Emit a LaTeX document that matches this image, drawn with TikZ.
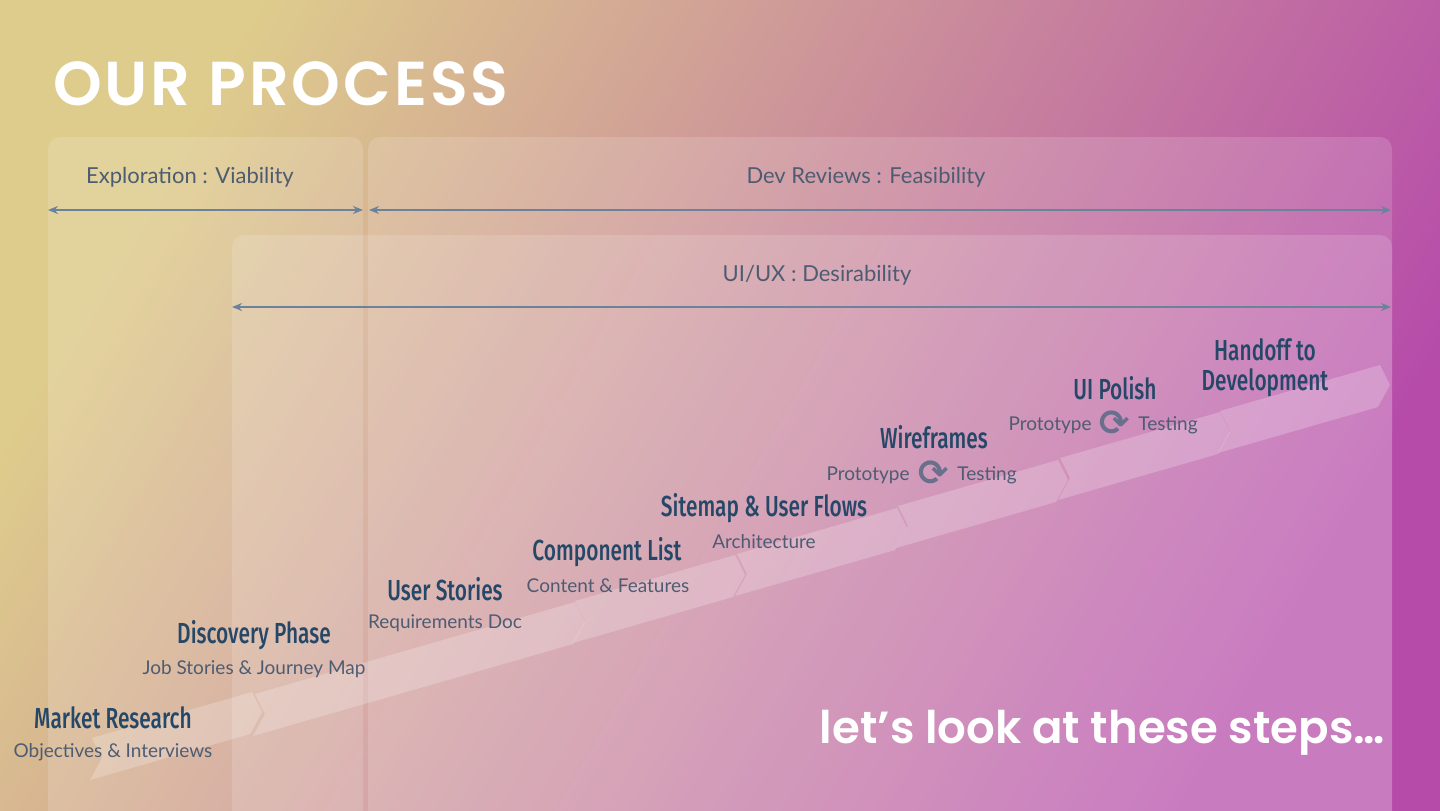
\documentclass[tikz,border=0pt]{standalone}
\usepackage{fontspec}
\setmainfont{Lato}
\newfontfamily\headfont[FakeStretch=0.72]{Fira Sans Medium}
\newfontfamily\titlefont{Poppins SemiBold}
\newfontfamily\symfont{DejaVu Sans}
\usetikzlibrary{arrows.meta}
\definecolor{bgyellow}{RGB}{222,204,140}
\definecolor{bgpeach}{RGB}{212,155,160}
\definecolor{bgmagenta}{RGB}{182,75,170}
\definecolor{headblue}{RGB}{38,72,104}
\definecolor{subgray}{RGB}{78,92,114}
\definecolor{arrowgray}{RGB}{108,130,155}
\definecolor{icongray}{RGB}{105,112,140}

\tikzset{
  panel/.style={fill=white, fill opacity=0.15, rounded corners=6pt},
  spanarrow/.style={{Stealth[length=5pt,width=4pt]}-{Stealth[length=5pt,width=4pt]}, arrowgray, line width=1.2pt},
  spanlabel/.style={text=subgray, font=\fontsize{11}{13}\selectfont},
  stephead/.style={text=headblue, font=\headfont\fontsize{14.5}{16}\selectfont, align=center},
  stepsub/.style={text=subgray, font=\fontsize{9.5}{11}\selectfont},
  cycleicon/.style={text=icongray, font=\symfont\bfseries\fontsize{18}{18}\selectfont}
}
\newcommand{\chevron}[2]{%
  \fill[white, fill opacity=0.22] (#1-10,#2-20) -- (#1,#2) -- (#1-12,#2+22)
    -- (#1-172,#2+68) -- (#1-160,#2+46) -- (#1-170,#2+26) -- cycle;}

\begin{document}
\begin{tikzpicture}[x=0.5pt, y=-0.5pt]
% Background
\shade[left color=bgyellow, middle color=bgpeach, right color=bgmagenta, shading angle=60]
  (0,0) rectangle (1440,810);
\useasboundingbox (0,0) rectangle (1440,810);

% Title
\node[anchor=base west, text=white, font=\titlefont\fontsize{31}{31}\selectfont] (title) at (46,105) {O\kern1.5pt U\kern1.5pt R\kern1.5pt\ P\kern1.5pt R\kern1.5pt O\kern1.5pt C\kern1.5pt E\kern1.5pt S\kern1.5pt S};

% Panels
\fill[panel] (48,137) rectangle (363,830);
\fill[panel] (368,137) rectangle (1392,830);
\fill[panel] (232,235) rectangle (1392,830);

% Span arrows
\coordinate (expL) at (48,210);
\coordinate (expR) at (363,210);
\coordinate (devL) at (369,210);
\coordinate (devR) at (1391,210);
\coordinate (uxL) at (232,307);
\coordinate (uxR) at (1391,307);
\draw[spanarrow] (expL) -- (expR);
\draw[spanarrow] (devL) -- (devR);
\draw[spanarrow] (uxL) -- (uxR);
\node[spanlabel] (explore) at (190,177) {Exploration : Viability};
\node[spanlabel] (devrev) at (866,177) {Dev Reviews : Feasibility};
\node[spanlabel] (uiux) at (817,275) {UI/UX : Desirability};

% Chevrons
\foreach \tx/\ty in {262/712, 425/668, 585/622, 745/575, 907/528, 1068/480, 1230/432, 1390/385}
  {\chevron{\tx}{\ty}}

% Steps
\node[stephead] (market) at (113,718) {Market Research};
\node[stepsub] (marketsub) at (113,752) {Objectives \& Interviews};
\node[stephead] (discovery) at (254,635) {Discovery Phase};
\node[stepsub] (discoverysub) at (254,669) {Job Stories \& Journey Map};
\node[stephead] (stories) at (445,589) {User Stories};
\node[stepsub] (storiessub) at (445,623) {Requirements Doc};
\node[stephead] (components) at (607,552) {Component List};
\node[stepsub] (componentssub) at (608,586) {Content \& Features};
\node[stephead] (sitemap) at (764,508) {Sitemap \& User Flows};
\node[stepsub] (sitemapsub) at (764,542) {Architecture};
\node[stephead] (wires) at (934,437) {Wireframes};
\node[stepsub] (wiresproto) at (868,475) {Prototype};
\node[cycleicon] (wirescycle) at (934,473) {⟳};
\node[stepsub] (wirestest) at (987,475) {Testing};
\node[stephead] (polish) at (1115,388) {UI Polish};
\node[stepsub] (polishproto) at (1050,425) {Prototype};
\node[cycleicon] (polishcycle) at (1115,423) {⟳};
\node[stepsub] (polishtest) at (1168,425) {Testing};
\node[stephead] (handoff) at (1265,368) {Handoff to\\[-1pt]Development};

% Closing line
\node[anchor=east, text=white, font=\titlefont\fontsize{22.5}{22.5}\selectfont] (steps) at (1392,733) {let’s look at these steps…};
\end{tikzpicture}
\end{document}
